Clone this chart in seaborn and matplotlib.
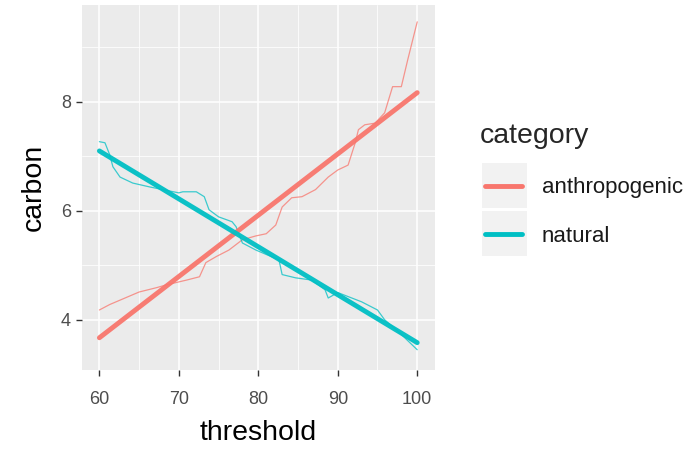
import numpy as np
import pandas as pd
import matplotlib
matplotlib.use("Agg")
import matplotlib.pyplot as plt
import seaborn as sns
from matplotlib.lines import Line2D
from matplotlib.patches import Rectangle
from matplotlib.ticker import MultipleLocator

# datos
anthro_x = [60, 61.3, 65, 67.2, 68.4, 71, 72.6, 73.4, 74.7, 76.3, 78, 79.7, 81, 82.2,
            83, 84.2, 85.5, 87.2, 88.8, 90, 91.3, 92.2, 92.6, 93.4, 94.7, 95.9,
            96.9, 98, 98.8, 100]
anthro_y = [4.18, 4.28, 4.51, 4.59, 4.64, 4.73, 4.79, 5.05, 5.16, 5.28, 5.47, 5.54, 5.58, 5.74,
            6.07, 6.24, 6.26, 6.39, 6.62, 6.75, 6.84, 7.25, 7.49, 7.58, 7.61, 7.8,
            8.28, 8.28, 8.77, 9.47]

natural_x = [60, 60.7, 61.3, 61.7, 62.6, 64.2, 66.3, 70, 70.5, 72.2, 73.2, 73.8, 75, 76.7,
             77.2, 78, 79.7, 82.6, 83, 84.7, 86.7, 88.4, 88.8, 90, 93, 95, 95.9, 97.5, 100]
natural_y = [7.27, 7.25, 7.03, 6.81, 6.62, 6.51, 6.44, 6.33, 6.35, 6.35, 6.26, 6.02, 5.89, 5.8,
             5.71, 5.41, 5.28, 5.1, 4.83, 4.77, 4.73, 4.55, 4.4, 4.5, 4.33, 4.18, 4.0, 3.8, 3.45]

fit_x = [60, 100]
fit_anthro = [3.67, 8.17]
fit_natural = [7.10, 3.58]

categorias = ["anthropogenic", "natural"]
colores = {"anthropogenic": "#F8766D", "natural": "#00BFC4"}

raw = pd.concat([
    pd.DataFrame({"threshold": anthro_x, "carbon": anthro_y, "category": "anthropogenic"}),
    pd.DataFrame({"threshold": natural_x, "carbon": natural_y, "category": "natural"}),
])
fit = pd.concat([
    pd.DataFrame({"threshold": fit_x, "carbon": fit_anthro, "category": "anthropogenic"}),
    pd.DataFrame({"threshold": fit_x, "carbon": fit_natural, "category": "natural"}),
])

sns.set_theme(style="darkgrid")
plt.rcParams["font.family"] = ["Liberation Sans", "DejaVu Sans"]

fig = plt.figure(figsize=(7, 4.5), dpi=100)
ax = fig.add_axes([0.117, 0.178, 0.504, 0.811])
ax.set_facecolor("#EBEBEB")

sns.lineplot(data=raw, x="threshold", y="carbon", hue="category", palette=colores,
             hue_order=categorias, linewidth=0.9, alpha=0.75, legend=False, ax=ax,
             estimator=None, sort=False)
sns.lineplot(data=fit, x="threshold", y="carbon", hue="category", palette=colores,
             hue_order=categorias, linewidth=3.5, alpha=0.95, legend=False, ax=ax,
             estimator=None)

ax.set_xlim(57.8, 102.2)
ax.set_ylim(3.08, 9.78)
ax.xaxis.set_major_locator(MultipleLocator(10))
ax.xaxis.set_minor_locator(MultipleLocator(5))
ax.yaxis.set_major_locator(MultipleLocator(2))
ax.yaxis.set_minor_locator(MultipleLocator(1))
ax.grid(which="major", color="white", linewidth=1.1)
ax.grid(which="minor", color="white", linewidth=0.55)
ax.set_axisbelow(True)
for s in ax.spines.values():
    s.set_visible(False)
ax.tick_params(which="major", length=4, width=1, color="#333333",
               labelsize=13, labelcolor="#4D4D4D", pad=4, bottom=True, left=True)
ax.tick_params(axis="x", which="major", pad=11)
ax.tick_params(which="minor", length=0)
ax.set_xlabel("threshold", fontsize=20.5, color="black", labelpad=9)
ax.set_ylabel("carbon", fontsize=20.5, color="black", labelpad=10)

# leyenda manual al estilo ggplot
W, H = 700, 450
fig.text(480 / W, 1 - 136 / H, "category", fontsize=20.5, va="center", ha="left")
for i, cat in enumerate(categorias):
    y0 = 163 + i * 48
    fig.patches.append(Rectangle((482 / W, 1 - (y0 + 45) / H), 45 / W, 45 / H,
                                 transform=fig.transFigure, facecolor="#F2F2F2",
                                 edgecolor="none", zorder=0))
    yc = 1 - (y0 + 23) / H
    fig.lines.append(Line2D([485 / W, 522 / W], [yc, yc], transform=fig.transFigure,
                            color=colores[cat], linewidth=3.5))
    fig.text(542 / W, yc - 2 / H, cat, fontsize=16, va="center", ha="left", color="#1A1A1A")

fig.savefig("out.png", dpi=100)
